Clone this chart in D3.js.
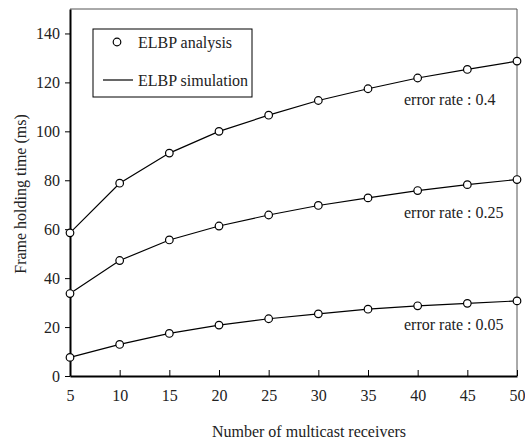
<!DOCTYPE html>
<meta charset="utf-8">
<style>
body { margin: 0; background: #fff; }
svg { display: block; }
text { font-family: "Liberation Serif", "DejaVu Serif", serif; }
.axis text { font-size: 16px; fill: #222; }
.axis path, .axis line { stroke: #000; }
.series { fill: none; stroke: #000; stroke-width: 1.2px; }
.pt { fill: #fff; stroke: #000; stroke-width: 1.2px; }
.lbl { font-size: 16px; fill: #222; }
</style>
<body>
<svg width="525" height="444"></svg>
<script src="https://d3js.org/d3.v7.min.js"></script>
<script>

var receivers = [5, 10, 15, 20, 25, 30, 35, 40, 45, 50];
var rate040 = [58.5, 78.8, 91.1, 100.0, 106.6, 112.6, 117.4, 121.8, 125.3, 128.7];
var rate025 = [33.7, 47.2, 55.6, 61.3, 65.8, 69.7, 72.8, 75.8, 78.2, 80.3];
var rate005 = [7.6, 12.9, 17.4, 20.8, 23.4, 25.4, 27.3, 28.7, 29.7, 30.7];
var yTicks = [0, 20, 40, 60, 80, 100, 120, 140];

var seriesList = [
  {name: "error rate : 0.4", values: rate040},
  {name: "error rate : 0.25", values: rate025},
  {name: "error rate : 0.05", values: rate005}
];

var mLeft = 70, mRight = 517, mTop = 9, mBottom = 376;

var svg = d3.select("svg");

var x = d3.scaleLinear().domain([5, 50]).range([mLeft, mRight]);
var y = d3.scaleLinear().domain([0, 150]).range([mBottom, mTop]);

// frame (top and right thin grey)
svg.append("path")
    .attr("d", "M" + mLeft + "," + mTop + "H" + mRight + "V" + mBottom)
    .attr("fill", "none")
    .attr("stroke", "#555")
    .attr("stroke-width", 1);

// x axis, ticks pointing inward
var xAxis = svg.append("g")
    .attr("class", "axis")
    .attr("transform", "translate(0," + mBottom + ")")
    .call(d3.axisBottom(x).tickValues(receivers).tickSizeInner(-6).tickSizeOuter(0).tickPadding(14));
xAxis.select(".domain").attr("stroke-width", 2);

// y axis, ticks pointing outward
var yAxis = svg.append("g")
    .attr("class", "axis")
    .attr("transform", "translate(" + mLeft + ",0)")
    .call(d3.axisLeft(y).tickValues(yTicks).tickSizeInner(5).tickSizeOuter(0).tickPadding(5));
yAxis.select(".domain").attr("stroke-width", 2);

// axis titles
svg.append("text")
    .attr("class", "lbl")
    .attr("x", 309)
    .attr("y", 437)
    .attr("text-anchor", "middle")
    .text("Number of multicast receivers");

svg.append("text")
    .attr("class", "lbl")
    .attr("transform", "translate(26,194) rotate(-90)")
    .attr("text-anchor", "middle")
    .text("Frame holding time (ms)");

var line = d3.line()
    .x(function(d, i) { return x(receivers[i]); })
    .y(function(d) { return y(d); });

var labelPos = [105, 218, 330];

seriesList.forEach(function(s, k) {
  svg.append("path")
      .attr("class", "series")
      .attr("d", line(s.values));

  svg.selectAll(".pt" + k)
      .data(s.values)
    .enter().append("circle")
      .attr("class", "pt")
      .attr("cx", function(d, i) { return x(receivers[i]); })
      .attr("cy", function(d) { return y(d); })
      .attr("r", 3.8);

  svg.append("text")
      .attr("class", "lbl")
      .attr("x", 404)
      .attr("y", labelPos[k])
      .text(s.name);
});

// legend
var legend = svg.append("g");
legend.append("rect")
    .attr("x", 93).attr("y", 29)
    .attr("width", 159).attr("height", 68)
    .attr("fill", "#fff").attr("stroke", "#000").attr("stroke-width", 1);
legend.append("circle")
    .attr("class", "pt")
    .attr("cx", 117).attr("cy", 42).attr("r", 3.8);
legend.append("text")
    .attr("class", "lbl")
    .attr("x", 138).attr("y", 48)
    .text("ELBP analysis");
legend.append("line")
    .attr("x1", 103).attr("x2", 133)
    .attr("y1", 80).attr("y2", 80)
    .attr("stroke", "#000").attr("stroke-width", 1.2);
legend.append("text")
    .attr("class", "lbl")
    .attr("x", 138).attr("y", 86)
    .text("ELBP simulation");

</script>
